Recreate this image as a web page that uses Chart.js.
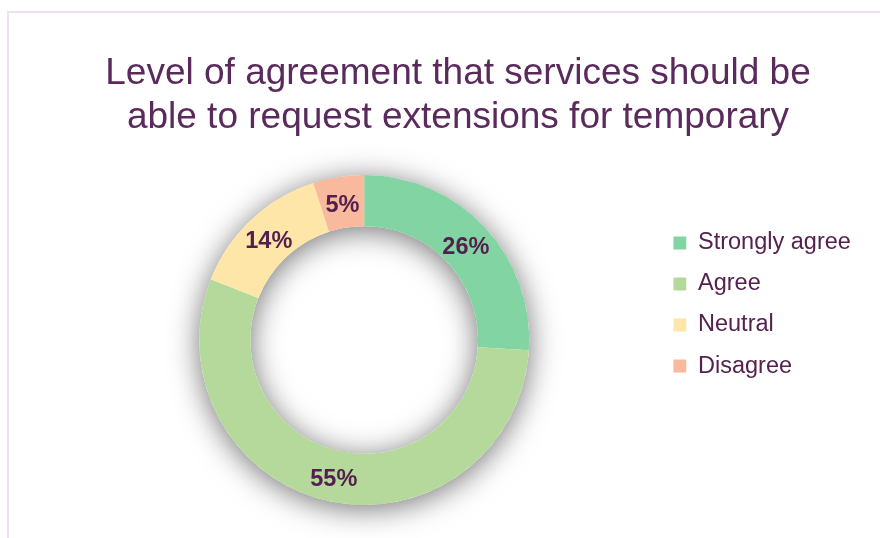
<!DOCTYPE html>
<html>
<head>
<meta charset="utf-8">
<script src="https://cdn.jsdelivr.net/npm/chart.js@4.4.1/dist/chart.umd.min.js"></script>
<style>
html,body{
  margin:0;
  padding:0;
  background:#ffffff;
  overflow:hidden;
}

/* thin lavender frame round the card */
#frame{
  position:absolute;
  left:7px;
  top:11px;
  width:900px;
  height:560px;
  border-left:2px solid #efdff2;
  border-top:2px solid #efdff2;
}

#agreeChart{
  position:absolute;
  left:0;
  top:0;
}
</style>
</head>
<body>

<div id="frame"></div>
<canvas id="agreeChart" width="880" height="538"></canvas>

<script>
/* =========================================
DATA
========================================= */

const titleLines = [
  "Level of agreement that services should be",
  "able to request extensions for temporary"
];

const categories = [
  "Strongly agree",
  "Agree",
  "Neutral",
  "Disagree"
];

const shares = [26, 55, 14, 5];

/* =========================================
STYLE
========================================= */

const FONT =
"'Liberation Sans', Arial, sans-serif";

const sliceColors = [
  "#83d4a3",
  "#b4d99b",
  "#fee6a9",
  "#f8b99c"
];

/* soft grey glow under the ring */

const ringShadow = {

  id:"ringShadow",

  beforeDatasetsDraw(chart){

    const arc =
    chart.getDatasetMeta(0).data[0];

    if(!arc) return;

    const {x, y, innerRadius, outerRadius} =
    arc.getProps(
      ["x","y","innerRadius","outerRadius"],
      true
    );

    const ctx = chart.ctx;

    ctx.save();
    ctx.shadowColor = "rgba(0,0,0,0.55)";
    ctx.shadowBlur = 30;
    ctx.shadowOffsetY = 4;
    ctx.fillStyle = "#ffffff";

    ctx.beginPath();
    ctx.arc(x, y, outerRadius, 0, Math.PI*2);
    ctx.moveTo(x + innerRadius, y);
    ctx.arc(x, y, innerRadius, 0, Math.PI*2);
    ctx.fill("evenodd");

    ctx.restore();

  }

};

/* percent labels in the middle of each slice */

const sliceLabels = {

  id:"sliceLabels",

  afterDatasetsDraw(chart){

    const ctx = chart.ctx;

    const meta =
    chart.getDatasetMeta(0);

    ctx.save();
    ctx.font = "bold 23.5px " + FONT;
    ctx.fillStyle = "#531f4f";
    ctx.textAlign = "center";
    ctx.textBaseline = "middle";

    meta.data.forEach((arc, i)=>{

      const p =
      arc.getCenterPoint(true);

      ctx.fillText(
        shares[i] + "%",
        p.x,
        p.y + 3
      );

    });

    ctx.restore();

  }

};

/* legend entries as one-line arrays, so the row gap
   comes from the font lineHeight instead of padding */

function legendLabels(chart){

  const items =
  Chart.overrides.doughnut.plugins.legend.labels
  .generateLabels(chart);

  items.forEach(item=>{
    item.text = [item.text];
  });

  return items;

}

/* =========================================
CHART
========================================= */

const ctx =
document.getElementById(
  "agreeChart"
);

const agreeChart =
new Chart(ctx,{

  type:"doughnut",

  data:{

    labels:categories,

    datasets:[{

      data:shares,

      backgroundColor:sliceColors,

      borderWidth:0,

      radius:165,

      cutout:"69%"

    }]

  },

  options:{

    responsive:false,

    animation:false,

    events:[],

    layout:{
      padding:{
        top:10,
        left:55.15,
        right:19.15,
        bottom:10
      }
    },

    plugins:{

      title:{
        display:true,
        text:titleLines,
        color:"#5a2a5c",
        font:{
          size:37,
          family:FONT,
          weight:"normal",
          lineHeight:1.173
        },
        padding:{
          top:42.3,
          bottom:12.9
        }
      },

      legend:{
        position:"right",
        align:"start",
        // empty title only pushes the items down
        title:{
          display:true,
          text:"",
          padding:{
            top:206.85,
            bottom:0
          }
        },
        labels:{
          boxWidth:13,
          boxHeight:13,
          padding:0,
          color:"#55214f",
          generateLabels:legendLabels,
          font:{
            size:23.5,
            family:FONT,
            lineHeight:1.745
          }
        }
      },

      tooltip:{
        enabled:false
      }

    }

  },

  plugins:[ringShadow, sliceLabels]

});
</script>
</body>
</html>
